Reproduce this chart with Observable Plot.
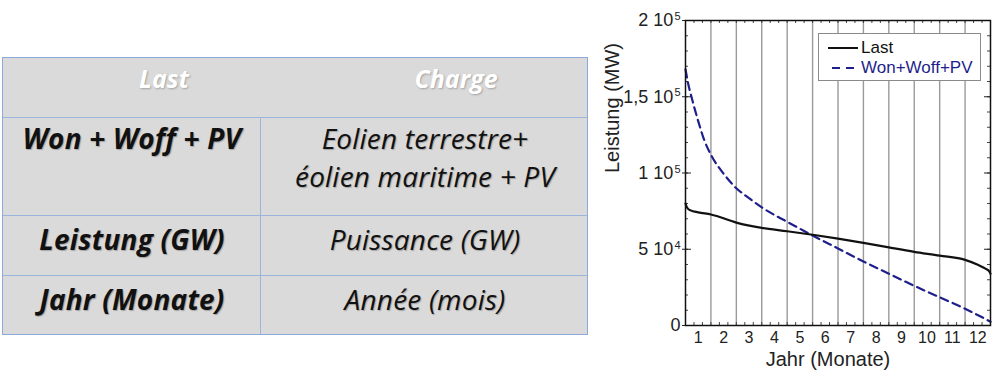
<!DOCTYPE html>
<html><head><meta charset="utf-8">
<script src="https://cdn.jsdelivr.net/npm/d3@7"></script>
<script src="https://cdn.jsdelivr.net/npm/@observablehq/plot@0.6"></script>
<style>
body{margin:0;width:1000px;height:380px;background:#fff;position:relative;overflow:hidden;}
#table{position:absolute;left:2px;top:57px;width:586px;height:278px;background:#dadada;box-sizing:border-box;border:1px solid #8eaadb;font-family:"Open Sans",Lato,sans-serif;}
.hl{position:absolute;left:0;right:0;height:0;border-top:1px solid #9bb4dc;}
.vl{position:absolute;width:0;border-left:1px solid #9bb4dc;}
.t{position:absolute;white-space:nowrap;text-align:center;transform:translateX(-50%);font-style:italic;font-size:28px;line-height:38px;color:#111;letter-spacing:0.2px;text-shadow:1px 1px 1px rgba(0,0,0,0.25);}
.t.b{font-weight:bold;}
.t.h{font-weight:bold;color:#fff;font-size:25px;letter-spacing:0;text-shadow:1px 1px 2px rgba(0,0,0,0.25);}
#chart{position:absolute;left:590px;top:0;}
#legend{position:absolute;left:818px;top:33px;width:163px;height:48px;box-sizing:border-box;border:1px solid #8a8a8a;background:#fff;font-family:"Liberation Sans",Arial,sans-serif;font-size:17px;}
#legend .row{position:absolute;left:8px;height:20px;display:flex;align-items:center;}
#legend svg{margin-right:2px;}
</style></head>
<body>
<div id="table"></div>
<div id="chart"></div>
<div id="legend"></div>
<script>
// ---------- table content ----------
const tableHeader = ["Last", "Charge"];
const tableLeft = ["Won + Woff + PV", "Leistung (GW)", "Jahr (Monate)"];
const tableRight = [["Eolien terrestre+", "éolien maritime + PV"], ["Puissance (GW)"], ["Année (mois)"]];

// ---------- chart data ----------
const months = [1, 2, 3, 4, 5, 6, 7, 8, 9, 10, 11, 12];
const seriesNames = ["Last", "Won+Woff+PV"];
const lastX = [0, 0.03, 0.1, 0.2, 0.5, 1, 2, 3, 4, 5, 6, 7, 8, 9, 10, 11, 11.5, 11.8, 11.95, 12];
const lastY = [80000, 78500, 76500, 75500, 74200, 72800, 67500, 64000, 61800, 59500, 57000, 54200, 51200, 48300, 45800, 43000, 39800, 37300, 35500, 34000];
const wonX = [0, 0.1, 0.25, 0.5, 0.75, 1, 1.5, 2, 2.5, 3, 3.5, 4, 4.5, 5, 6, 7, 8, 9, 10, 11, 12];
const wonY = [168000, 159000, 149000, 134000, 121000, 112000, 99500, 90000, 83500, 77500, 72500, 68000, 63500, 59000, 50500, 42000, 34000, 26000, 18500, 11000, 2500];
const yTicks = [0, 50000, 100000, 150000, 200000];
const yTickMantissa = ["0", "5 10", "1 10", "1,5 10", "2 10"];
const yTickExponent = ["", "4", "5", "5", "5"];
const xTitle = "Jahr (Monate)";
const yTitle = "Leistung (MW)";

// ---------- build table ----------
const tb = document.getElementById("table");
const add = (cls, style, txt) => { const d = document.createElement("div"); d.className = cls; Object.assign(d.style, style); if (txt != null) d.textContent = txt; tb.appendChild(d); return d; };
const rowLines = [59, 157, 217];
rowLines.forEach(y => add("hl", {top: y + "px"}));
add("vl", {left: "257px", top: "59px", bottom: "0px"});
add("t h", {left: "161px", top: "1px"}, tableHeader[0]);
add("t h", {left: "453px", top: "1px"}, tableHeader[1]);
const rowTops = [61, 162, 222];
tableLeft.forEach((s, i) => add("t b", {left: "129px", top: rowTops[i] + "px"}, s));
tableRight.forEach((lines, i) => lines.forEach((s, j) => add("t", {left: "422px", top: (rowTops[i] + j * 38) + "px"}, s)));

// ---------- chart ----------
const lastData = lastX.map((x, i) => ({x, y: lastY[i], s: seriesNames[0]}));
const wonData = wonX.map((x, i) => ({x, y: wonY[i], s: seriesNames[1]}));
const monthCenters = months.map(m => m - 0.5);
const boundaries = months.slice(0, -1);
const minorX = d3.range(0, 12.001, 1 / 3);
const minorY = d3.range(0, 200001, 10000);

const chart = Plot.plot({
  width: 410, height: 380,
  marginLeft: 95, marginRight: 10, marginTop: 20, marginBottom: 55,
  x: {domain: [0, 12]},
  y: {domain: [0, 200000]},
  style: {fontFamily: '"Liberation Sans", Arial, sans-serif', background: "transparent", color: "#222"},
  marks: [
    Plot.ruleX(boundaries, {stroke: "#9a9a9a", strokeWidth: 1.4}),
    Plot.tickX(minorX, {insetTop: 302, stroke: "#444"}),
    Plot.tickX(minorX, {insetBottom: 302, stroke: "#444"}),
    Plot.tickY(minorY, {insetRight: 302, stroke: "#444"}),
    Plot.tickY(minorY, {insetLeft: 302, stroke: "#444"}),
    Plot.tickY(yTicks, {insetRight: 299, stroke: "#222"}),
    Plot.tickY(yTicks, {insetLeft: 299, stroke: "#222"}),
    Plot.line(wonData, {x: "x", y: "y", stroke: "#1f1f8c", strokeWidth: 2.2, strokeDasharray: "8,5", curve: "monotone-x"}),
    Plot.line(lastData, {x: "x", y: "y", stroke: "#111", strokeWidth: 2.2, curve: "monotone-x"}),
    Plot.frame({stroke: "#111", strokeWidth: 1.5}),
    Plot.axisY(yTicks, {tickFormat: d => yTickMantissa[yTicks.indexOf(d)], tickSize: 3, tickPadding: 2, fontSize: 18, label: null}),
    Plot.axisX(monthCenters, {tickFormat: d => String(months[monthCenters.indexOf(d)]), tickSize: 0, tickPadding: 6, fontSize: 16, label: null}),
    Plot.text([yTitle], {frameAnchor: "left", dx: -73, rotate: -90, fontSize: 20, fill: "#222"}),
    Plot.text([xTitle], {frameAnchor: "bottom", dy: 40, dx: -10, fontSize: 20, fill: "#222"})
  ]
});
// superscript exponents on the y tick labels
d3.select(chart).selectAll("text").each(function() {
  if (this.querySelector("tspan")) return;
  const v = this.textContent;
  const i = yTickMantissa.indexOf(v);
  if (i > 0 && yTickExponent[i]) {
    d3.select(this).append("tspan").attr("dy", "-0.55em").attr("dx", "1").attr("font-size", "11px").text(yTickExponent[i]);
  }
});
document.getElementById("chart").appendChild(chart);

// ---------- legend ----------
const lg = document.getElementById("legend");
const legendStyles = [{stroke: "#111", dash: null, color: "#111"}, {stroke: "#1f1f8c", dash: "8,6", color: "#1f1f8c"}];
seriesNames.forEach((name, i) => {
  const r = document.createElement("div");
  r.className = "row";
  r.style.top = (4 + i * 20) + "px";
  const st = legendStyles[i];
  r.innerHTML = `<svg width="32" height="10"><line x1="1" x2="31" y1="5" y2="5" stroke="${st.stroke}" stroke-width="2" ${st.dash ? `stroke-dasharray="${st.dash}" stroke-dashoffset="-4"` : ""}/></svg><span style="color:${st.color}">${name}</span>`;
  lg.appendChild(r);
});
</script>
</body></html>
